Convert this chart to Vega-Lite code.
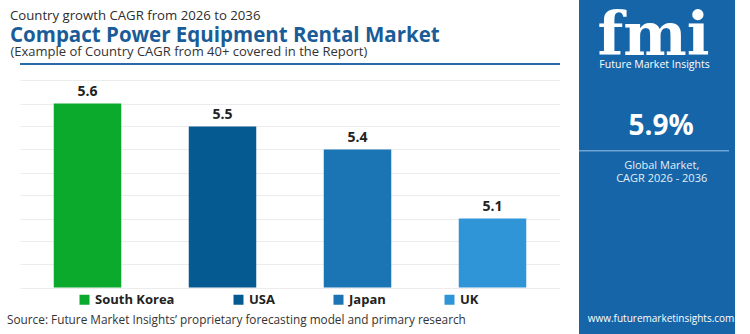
{
  "$schema": "https://vega.github.io/schema/vega-lite/v6.json",
  "padding": 0,
  "background": "#ffffff",
  "spacing": 17,
  "config": {
    "font": "Open Sans",
    "view": {"stroke": null}
  },
  "hconcat": [
    {
      "width": 540,
      "height": 287.5,
      "title": {
        "text": "Country growth CAGR from 2026 to 2036",
        "fontSize": 13.2,
        "fontWeight": "normal",
        "color": "#2d2d2d",
        "anchor": "start",
        "frame": "group",
        "dx": -10,
        "subtitle": "Compact Power Equipment Rental Market",
        "subtitleFontSize": 20.5,
        "subtitleFontWeight": "bold",
        "subtitleColor": "#1a5c97",
        "subtitlePadding": 3,
        "offset": -47.5
      },
      "data": {"values": [
        {"country": "South Korea", "cagr": 5.6},
        {"country": "USA", "cagr": 5.5},
        {"country": "Japan", "cagr": 5.4},
        {"country": "UK", "cagr": 5.1}
      ]},
      "encoding": {
        "y": {"field": "cagr", "type": "quantitative",
          "scale": {"domain": [4.8, 6.05], "zero": false, "nice": false},
          "axis": {"values": [4.8, 4.9, 5.0, 5.1, 5.2, 5.3, 5.4, 5.5, 5.6, 5.7], "grid": true, "gridColor": "#ececec",
            "labels": false, "ticks": false, "domain": false, "title": null, "minExtent": 20, "maxExtent": 20}}
      },
      "layer": [
        {
          "mark": {"type": "bar", "clip": true},
          "encoding": {
            "x": {"field": "country", "type": "nominal", "sort": null,
              "scale": {"paddingInner": 0.5, "paddingOuter": 0.25},
              "axis": {"orient": "bottom", "labels": false, "ticks": false, "domain": false, "grid": false,
                "title": "Source: Future Market Insights’ proprietary forecasting model and primary research",
                "titleFontSize": 11.8, "titleFontWeight": "normal", "titleColor": "#333333",
                "titleAnchor": "start", "titleAlign": "left", "titleX": -13.5, "titlePadding": 27, "titleBaseline": "top"}},
            "color": {"field": "country", "type": "nominal", "sort": null,
              "scale": {"domain": ["South Korea", "USA", "Japan", "UK"], "range": ["#0caa2c", "#045a91", "#1b75b5", "#3095d6"]},
              "legend": {"orient": "none", "legendX": 58, "legendY": 293, "direction": "horizontal", "title": null,
                "symbolType": "square", "symbolSize": 100, "symbolStrokeWidth": 0, "labelFontSize": 13, "labelFontWeight": "bold",
                "labelColor": "#222222", "labelOffset": 4, "columnPadding": 57}}
          }
        },
        {
          "mark": {"type": "text", "baseline": "alphabetic", "dy": -8, "fontSize": 14, "fontWeight": "bold", "color": "#222222"},
          "encoding": {
            "x": {"field": "country", "type": "nominal", "sort": null,
              "scale": {"paddingInner": 0.5, "paddingOuter": 0.25},
              "axis": {"orient": "top", "labels": false, "ticks": false, "grid": false, "domain": false, "offset": -64,
                "title": "(Example of Country CAGR from 40+ covered in the Report)",
                "titleFontSize": 13, "titleFontWeight": "normal", "titleColor": "#333333",
                "titleAnchor": "start", "titleAlign": "left", "titleX": -10, "titleBaseline": "alphabetic", "titlePadding": 8.5}},
            "text": {"field": "cagr", "type": "quantitative", "format": ".1f"}
          }
        },
        {
          "mark": {"type": "rule", "color": "#2a6aa8", "strokeWidth": 2},
          "encoding": {
            "y": {"datum": 5.772, "type": "quantitative"}
          }
        },
        {
          "data": {"values": [{"segment": "1"}, {"segment": "2"}, {"segment": "3"}]},
          "mark": {"type": "rect"},
          "encoding": {
            "x": {"field": "segment", "type": "nominal", "scale": {"paddingInner": 0, "paddingOuter": 0}, "axis": null},
            "y": {"datum": 4.619, "type": "quantitative"},
            "y2": {"datum": 4.604},
            "color": {"field": "segment", "type": "nominal", "scale": {"range": ["#8cc63f", "#e8762d", "#9b3f98"]}, "legend": null}
          }
        }
      ],
      "resolve": {"axis": {"x": "independent"}, "scale": {"x": "independent", "color": "independent"}}
    },
    {
      "width": 156,
      "height": 334,
      "view": {"fill": "#1565a8", "stroke": null},
      "data": {"values": [
        {"logo": "fmi", "company": "Future Market Insights", "cagr": "5.9%", "label": "Global Market,\nCAGR 2026 - 2036", "url": "www.futuremarketinsights.com"}
      ]},
      "layer": [
        {
          "mark": {"type": "text", "font": "DejaVu Serif", "fontSize": 60, "fontWeight": "bold", "color": "#ffffff", "baseline": "alphabetic", "align": "center"},
          "encoding": {
            "text": {"field": "logo"},
            "x": {"datum": 47.8, "type": "quantitative", "scale": {"domain": [0, 100]}, "axis": null},
            "y": {"datum": 16.5, "type": "quantitative", "scale": {"domain": [0, 100], "reverse": true}, "axis": null}
          }
        },
        {
          "mark": {"type": "text", "fontSize": 10.5, "color": "#ffffff", "baseline": "middle", "align": "center"},
          "encoding": {
            "text": {"field": "company"},
            "x": {"datum": 48.4, "type": "quantitative"},
            "y": {"datum": 19.6, "type": "quantitative"}
          }
        },
        {
          "mark": {"type": "text", "fontSize": 28, "fontWeight": "bold", "color": "#ffffff", "baseline": "middle", "align": "center"},
          "encoding": {
            "text": {"field": "cagr"},
            "x": {"datum": 52.6, "type": "quantitative"},
            "y": {"datum": 38.0, "type": "quantitative"}
          }
        },
        {
          "mark": {"type": "rule", "color": "#6fa3d3", "strokeWidth": 1.5},
          "encoding": {
            "x": {"datum": 0, "type": "quantitative"},
            "x2": {"datum": 96.2},
            "y": {"datum": 45.1, "type": "quantitative"}
          }
        },
        {
          "mark": {"type": "text", "fontSize": 11, "color": "#e6eef7", "baseline": "top", "align": "center", "lineBreak": "\n", "lineHeight": 13},
          "encoding": {
            "text": {"field": "label"},
            "x": {"datum": 53.0, "type": "quantitative"},
            "y": {"datum": 48.0, "type": "quantitative"}
          }
        },
        {
          "mark": {"type": "text", "fontSize": 10, "color": "#ffffff", "baseline": "middle", "align": "center"},
          "encoding": {
            "text": {"field": "url"},
            "x": {"datum": 52.6, "type": "quantitative"},
            "y": {"datum": 95.5, "type": "quantitative"}
          }
        }
      ]
    }
  ]
}
